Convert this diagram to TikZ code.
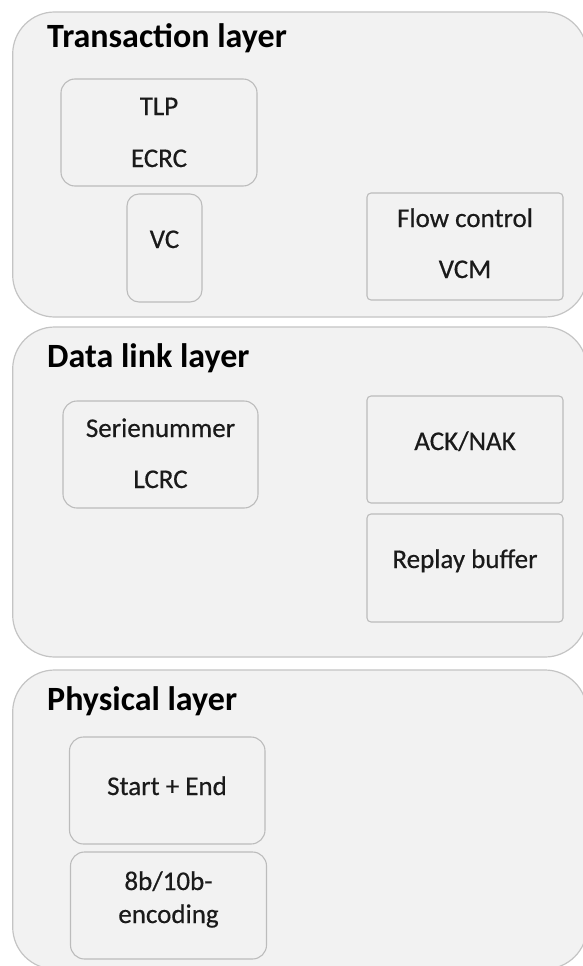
\documentclass[tikz,border=0pt]{standalone}
\usepackage{fontspec}
\setmainfont{Carlito}
\newfontfamily\labelfont[FakeBold=0.5]{Carlito}
\definecolor{panelfill}{HTML}{F2F2F2}
\definecolor{panelline}{HTML}{C4C4C4}
\definecolor{boxline}{HTML}{BCBCBC}
\definecolor{inktext}{HTML}{1A1A1A}
\begin{document}
\begin{tikzpicture}[x=1pt,y=-1pt,
  layer/.style={draw=panelline, fill=panelfill, line width=1.2pt,
    rounded corners=42pt, rectangle, inner sep=0pt},
  roundbox/.style={draw=boxline, fill=panelfill, line width=1.1pt,
    rounded corners=14pt, rectangle, inner sep=0pt},
  squarebox/.style={draw=boxline, fill=panelfill, line width=1.1pt,
    rounded corners=4pt, rectangle, inner sep=0pt},
  title/.style={anchor=base west, inner sep=0pt,
    font=\fontsize{34}{40}\selectfont\bfseries, text=black},
  lbl/.style={anchor=base, inner sep=0pt,
    font=\labelfont\fontsize{27}{32}\selectfont, text=inktext}]
\useasboundingbox (0,0) rectangle (583,966);
\clip (0,0) rectangle (583,966);
\fill[white] (0,0) rectangle (583,966);

% layer panels (right edges run just past the page edge)
\node[layer, minimum width=574.3pt, minimum height=305pt] (trans) at (299.85,164.5) {};
\node[layer, minimum width=574.3pt, minimum height=330pt] (dll)   at (299.85,492) {};
\node[layer, minimum width=574.3pt, minimum height=299pt] (phy)   at (299.85,819.5) {};

\node[title] (transT) at (47,48)  {Transaction layer};
\node[title] (dllT)   at (47,367) {Data link layer};
\node[title] (phyT)   at (47,710) {Physical layer};

% transaction layer blocks
\node[roundbox, minimum width=196pt, minimum height=107pt] (tlp) at (159,132.5) {};
\node[roundbox, rounded corners=12pt, minimum width=75pt, minimum height=108pt] (vc) at (164.5,248) {};
\node[squarebox, minimum width=196pt, minimum height=107pt] (flow) at (465,246.5) {};

\node[lbl] (tlpA)  at (159,115)   {TLP};
\node[lbl] (tlpB)  at (159,167)   {ECRC};
\node[lbl] (vcA)   at (164.5,248) {VC};
\node[lbl] (flowA) at (465,227)   {Flow control};
\node[lbl] (flowB) at (465,278)   {VCM};

% data link layer blocks
\node[roundbox, minimum width=195pt, minimum height=107pt] (seq) at (160.5,454.5) {};
\node[squarebox, minimum width=196pt, minimum height=107pt] (ack) at (465,449.5) {};
\node[squarebox, minimum width=196pt, minimum height=108pt] (replay) at (465,568) {};

\node[lbl] (seqA)    at (160.5,437) {Serienummer};
\node[lbl] (seqB)    at (160.5,488) {LCRC};
\node[lbl] (ackA)    at (465,450)   {ACK/NAK};
\node[lbl] (replayA) at (465,568)   {Replay buffer};

% physical layer blocks
\node[roundbox, minimum width=195.5pt, minimum height=107pt] (frame) at (167.25,790.5) {};
\node[roundbox, minimum width=196pt, minimum height=107pt] (enc) at (168.5,905.5) {};

\node[lbl] (frameA) at (167,795)   {Start + End};
\node[lbl] (encA)   at (168.5,890) {8b/10b-};
\node[lbl] (encB)   at (168.5,923) {encoding};
\end{tikzpicture}
\end{document}
